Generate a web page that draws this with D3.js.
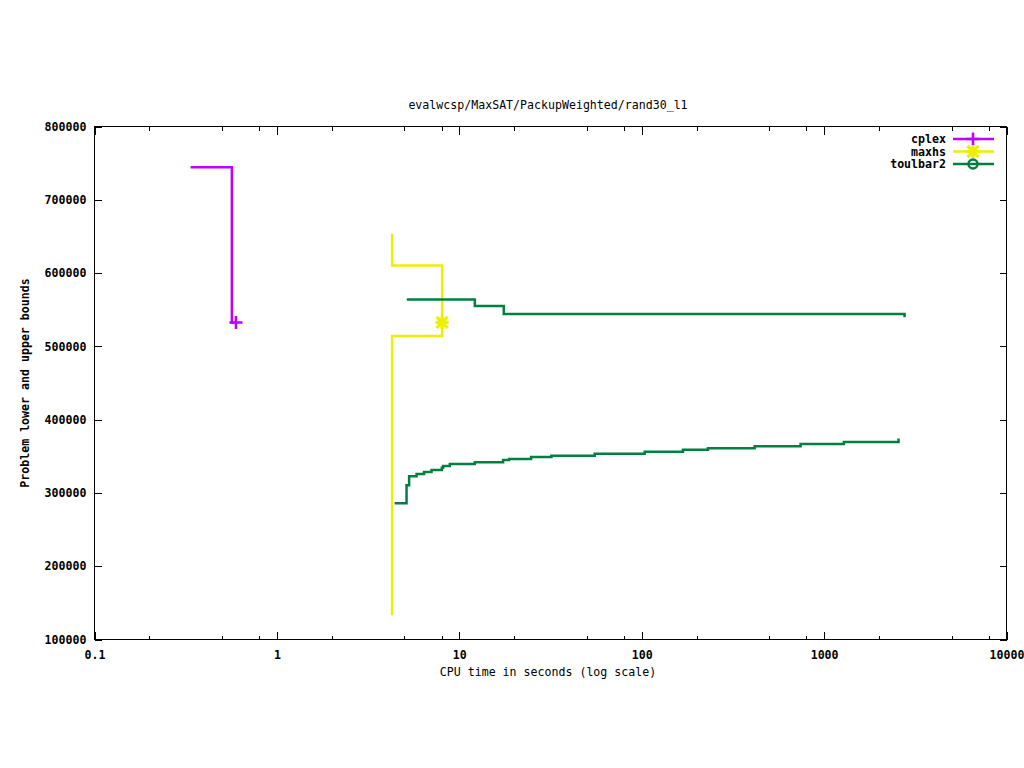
<!DOCTYPE html>
<html>
<head>
<meta charset="utf-8">
<script src="https://cdn.jsdelivr.net/npm/d3@7"></script>
<style>
  html, body { margin: 0; padding: 0; background: #fff; }
  svg text { font-family: "DejaVu Sans Mono", "Liberation Mono", monospace; font-size: 11.6px; fill: #000; }
</style>
</head>
<body>
<svg id="chart" width="1024" height="768"></svg>
<script>
// ---- data ----
const titleText = "evalwcsp/MaxSAT/PackupWeighted/rand30_l1";
const xLabelText = "CPU time in seconds (log scale)";
const yLabelText = "Problem lower and upper bounds";

const xTickValues = [0.1, 1, 10, 100, 1000, 10000];
const xTickLabels = ["0.1", "1", "10", "100", "1000", "10000"];
const xMinorFactors = [2, 5, 8];
const yTickValues = [100000, 200000, 300000, 400000, 500000, 600000, 700000, 800000];
const yTickLabels = ["100000", "200000", "300000", "400000", "500000", "600000", "700000", "800000"];

const solverNames = ["cplex", "maxhs", "toulbar2"];
const solverColors = ["#c000ff", "#eeee00", "#008040"];

// cplex
const cplexUpperTime  = [0.344, 0.570, 0.600];
const cplexUpperValue = [743600, 532000, 532000];
const cplexOptTime = [0.600];
const cplexOptValue = [532000];

// maxhs
const maxhsUpperTime  = [4.31, 4.31, 8.10];
const maxhsUpperValue = [651200, 609800, 532000];
const maxhsLowerTime  = [4.31, 4.31, 8.10];
const maxhsLowerValue = [134100, 513400, 532000];
const maxhsOptTime = [8.10];
const maxhsOptValue = [532000];

// toulbar2
const tb2UpperTime  = [5.27, 12.24, 17.64, 2779];
const tb2UpperValue = [563400, 554300, 543400, 540700];
const tb2LowerTime  = [4.52, 5.17, 5.34, 5.87, 6.45, 7.09, 8.07, 8.20, 8.93, 12.24, 17.49, 18.87, 24.9, 32.2, 55.6, 104.5, 169.4, 232.3, 418.8, 748, 1292, 2576];
const tb2LowerValue = [285100, 309700, 322000, 325100, 327800, 330600, 333700, 336000, 338700, 341100, 344200, 345600, 348300, 350100, 352800, 355500, 358300, 360400, 362900, 366000, 368800, 371900];

// ---- layout ----
const pLeft = 94, pRight = 1006, pTop = 126, pBottom = 639;
const svg = d3.select("#chart");

const x = d3.scaleLog().domain([0.1, 10000]).range([pLeft, pRight]);
const y = d3.scaleLinear().domain([100000, 800000]).range([pBottom, pTop]);

// frame
svg.append("rect").attr("x", pLeft + 0.5).attr("y", pTop + 0.5)
  .attr("width", pRight - pLeft).attr("height", pBottom - pTop)
  .attr("fill", "none").attr("stroke", "#000").attr("stroke-width", 1)
  .attr("shape-rendering", "crispEdges");

const minorVals = [];
xTickValues.slice(0, -1).forEach(v => xMinorFactors.forEach(f => minorVals.push(v * f)));

function styleAxis(g) {
  g.select(".domain").remove();
  g.selectAll("line").attr("stroke", "#000").attr("shape-rendering", "crispEdges");
  g.selectAll("text").attr("font-family", null).attr("font-size", null).attr("font-weight", "bold");
}

// bottom major
svg.append("g").attr("transform", `translate(0.5,${pBottom + 0.5})`)
  .call(d3.axisBottom(x).tickValues(xTickValues).tickSizeInner(-8).tickSizeOuter(0)
    .tickPadding(11).tickFormat((d, i) => xTickLabels[i]))
  .call(styleAxis);
// bottom minor
svg.append("g").attr("transform", `translate(0.5,${pBottom + 0.5})`)
  .call(d3.axisBottom(x).tickValues(minorVals).tickSizeInner(-4).tickSizeOuter(0).tickFormat(""))
  .call(styleAxis);
// top major + minor
svg.append("g").attr("transform", `translate(0.5,${pTop + 0.5})`)
  .call(d3.axisTop(x).tickValues(xTickValues).tickSizeInner(-8).tickSizeOuter(0).tickFormat(""))
  .call(styleAxis);
svg.append("g").attr("transform", `translate(0.5,${pTop + 0.5})`)
  .call(d3.axisTop(x).tickValues(minorVals).tickSizeInner(-4).tickSizeOuter(0).tickFormat(""))
  .call(styleAxis);
// left
svg.append("g").attr("transform", `translate(${pLeft + 0.5},0.5)`)
  .call(d3.axisLeft(y).tickValues(yTickValues).tickSizeInner(-7).tickSizeOuter(0)
    .tickPadding(8).tickFormat((d, i) => yTickLabels[i]))
  .call(styleAxis);
// right
svg.append("g").attr("transform", `translate(${pRight + 0.5},0.5)`)
  .call(d3.axisRight(y).tickValues(yTickValues).tickSizeInner(-7).tickSizeOuter(0).tickFormat(""))
  .call(styleAxis);

// titles
svg.append("text").attr("x", 548).attr("y", 109).attr("text-anchor", "middle").text(titleText);
svg.append("text").attr("x", 548).attr("y", 676).attr("text-anchor", "middle").text(xLabelText);
svg.append("text").attr("transform", "translate(29,383) rotate(-90)").attr("text-anchor", "middle")
  .attr("font-weight", "bold").text(yLabelText);

// series
const stepLine = d3.line().x(d => x(d[0])).y(d => y(d[1])).curve(d3.curveStepAfter);
const zip = (a, b) => a.map((v, i) => [v, b[i]]);

const series = [
  { pts: zip(cplexUpperTime, cplexUpperValue), c: 0 },
  { pts: zip(maxhsUpperTime, maxhsUpperValue), c: 1 },
  { pts: zip(maxhsLowerTime, maxhsLowerValue), c: 1 },
  { pts: zip(tb2UpperTime, tb2UpperValue), c: 2 },
  { pts: zip(tb2LowerTime, tb2LowerValue), c: 2 }
];
const plotG = svg.append("g");
series.forEach(s => {
  plotG.append("path").attr("d", stepLine(s.pts)).attr("fill", "none")
    .attr("stroke", solverColors[s.c]).attr("stroke-width", 2.5)
    .attr("stroke-linejoin", "miter").attr("stroke-linecap", "square");
});

// markers
function plusMarker(g, cx, cy, color) {
  g.append("path").attr("d", `M${cx - 6.5},${cy}H${cx + 6.5}M${cx},${cy - 6.5}V${cy + 6.5}`)
    .attr("stroke", color).attr("stroke-width", 2.5).attr("fill", "none");
}
function starMarker(g, cx, cy, color) {
  const r = 6.5;
  g.append("path").attr("d",
    `M${cx - r},${cy}H${cx + r}M${cx},${cy - r}V${cy + r}` +
    `M${cx - r * 0.85},${cy - r * 0.85}L${cx + r * 0.85},${cy + r * 0.85}` +
    `M${cx - r * 0.85},${cy + r * 0.85}L${cx + r * 0.85},${cy - r * 0.85}`)
    .attr("stroke", color).attr("stroke-width", 3.2).attr("fill", "none");
}
function circleMarker(g, cx, cy, color) {
  g.append("circle").attr("cx", cx).attr("cy", cy).attr("r", 4.5)
    .attr("fill", "none").attr("stroke", color).attr("stroke-width", 2.5);
}
zip(cplexOptTime, cplexOptValue).forEach(d => plusMarker(plotG, x(d[0]), y(d[1]), solverColors[0]));
zip(maxhsOptTime, maxhsOptValue).forEach(d => starMarker(plotG, x(d[0]), y(d[1]), solverColors[1]));

// legend
const legendRows = [139, 151.5, 164];
const markerFns = [plusMarker, starMarker, circleMarker];
solverNames.forEach((name, i) => {
  const ly = legendRows[i];
  svg.append("text").attr("x", 946).attr("y", ly + 4).attr("text-anchor", "end")
    .attr("font-weight", "bold").text(name);
  svg.append("line").attr("x1", 953).attr("x2", 994).attr("y1", ly).attr("y2", ly)
    .attr("stroke", solverColors[i]).attr("stroke-width", 2.5);
  markerFns[i](svg, 973, ly, solverColors[i]);
});
</script>
</body>
</html>
